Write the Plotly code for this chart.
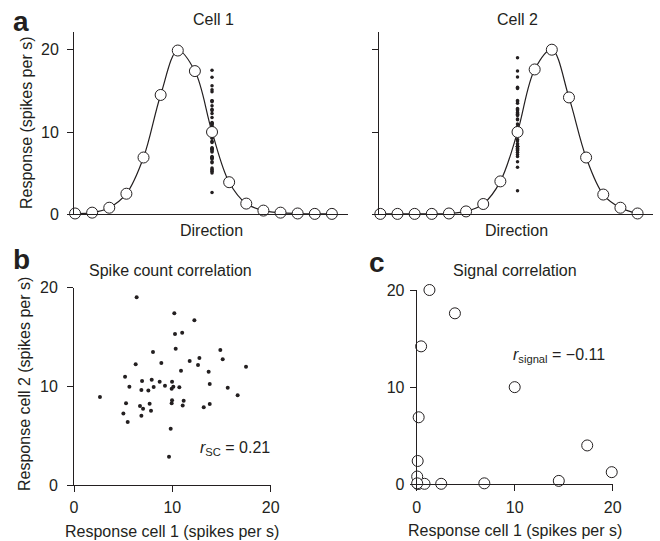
import plotly.graph_objects as go

# ---------------- data ----------------
directions = list(range(1, 17))
cell1_tuning = [0.1, 0.2, 0.8, 2.5, 6.9, 14.5, 19.9, 17.4, 10.0, 3.9, 1.3, 0.45, 0.2, 0.1, 0.05, 0.05]
cell2_tuning = [0.05, 0.05, 0.05, 0.05, 0.1, 0.35, 1.25, 4.0, 10.0, 17.6, 20.0, 14.2, 6.9, 2.4, 0.8, 0.1]

trial_direction = 9
cell1_trials = [2.64, 6.37, 10.2, 12.24, 10.27, 11.0, 10.34, 8.03, 14.88, 15.12,
                12.75, 11.76, 12.61, 6.27, 8.88, 10.88, 17.49, 13.69, 5.19, 6.92,
                7.9, 8.71, 9.97, 13.8, 5.63, 8.1, 9.25, 9.93, 10.1, 10.71,
                15.63, 6.85, 7.56, 16.64, 5.29, 7.69, 9.93, 9.97, 11.15, 11.05,
                13.8, 6.71, 7.02, 13.19, 7.83, 5.02, 6.85, 5.46, 9.83, 9.66]
cell2_trials = [8.92, 19.02, 17.4, 16.69, 15.3, 15.44, 13.82, 13.48, 13.68, 12.74,
                12.87, 12.57, 12.16, 12.23, 12.36, 11.59, 11.99, 11.49, 10.98, 10.54,
                10.68, 10.47, 10.47, 10.24, 9.97, 9.93, 10.07, 9.76, 9.97, 9.9,
                9.86, 9.63, 9.59, 9.09, 8.28, 8.24, 8.28, 8.58, 8.55, 8.07,
                8.21, 8.0, 7.74, 7.87, 7.53, 7.26, 7.03, 6.39, 5.71, 2.87]

scatter_ticks = [0, 10, 20]
tuning_ticks = [0, 10, 20]

# ---------------- style ----------------
W, H = 660, 541
FONT = "Liberation Sans, Arial, sans-serif"
FS = 16
INK = "#231f20"


def px(x):
    return x / W


def py(y):
    return 1 - y / H


fig = go.Figure()

open_marker = dict(symbol="circle", size=11, color="white", line=dict(color=INK, width=1))
dot_marker = dict(symbol="circle", size=3.5, color=INK, line=dict(width=0))

# Panel a, cell 1
fig.add_trace(go.Scatter(x=[trial_direction] * len(cell1_trials), y=cell1_trials, mode="markers",
                         marker=dot_marker, xaxis="x", yaxis="y", cliponaxis=False))
fig.add_trace(go.Scatter(x=directions, y=cell1_tuning, mode="lines",
                         line=dict(color=INK, width=1.2, shape="spline", smoothing=1.0),
                         xaxis="x", yaxis="y", cliponaxis=False))
fig.add_trace(go.Scatter(x=directions, y=cell1_tuning, mode="markers", marker=open_marker,
                         xaxis="x", yaxis="y", cliponaxis=False))

# Panel a, cell 2
fig.add_trace(go.Scatter(x=[trial_direction] * len(cell2_trials), y=cell2_trials, mode="markers",
                         marker=dot_marker, xaxis="x2", yaxis="y2", cliponaxis=False))
fig.add_trace(go.Scatter(x=directions, y=cell2_tuning, mode="lines",
                         line=dict(color=INK, width=1.2, shape="spline", smoothing=1.0),
                         xaxis="x2", yaxis="y2", cliponaxis=False))
fig.add_trace(go.Scatter(x=directions, y=cell2_tuning, mode="markers", marker=open_marker,
                         xaxis="x2", yaxis="y2", cliponaxis=False))

# Panel b
fig.add_trace(go.Scatter(x=cell1_trials, y=cell2_trials, mode="markers",
                         marker=dict(symbol="circle", size=4, color=INK, line=dict(width=0)),
                         xaxis="x3", yaxis="y3", cliponaxis=False))

# Panel c
fig.add_trace(go.Scatter(x=cell1_tuning, y=cell2_tuning, mode="markers", marker=open_marker,
                         xaxis="x4", yaxis="y4", cliponaxis=False))

axis_common = dict(showline=True, linecolor=INK, linewidth=1, showgrid=False, zeroline=False,
                   tickcolor=INK, tickwidth=1, ticklen=6,
                   tickfont=dict(family=FONT, size=FS, color=INK))

fig.update_layout(
    width=W, height=H,
    margin=dict(l=0, r=0, t=0, b=0, autoexpand=False),
    paper_bgcolor="white", plot_bgcolor="white",
    showlegend=False,
    hovermode=False,
    font=dict(family=FONT, size=FS, color=INK),
    xaxis=dict(axis_common, domain=[px(74), px(348)], range=[0.94, 16.94], ticks="",
               showticklabels=False, anchor="y"),
    yaxis=dict(axis_common, domain=[py(214.3), py(32)], range=[0, 22.15], ticks="outside",
               tickvals=tuning_ticks, ticklabelstandoff=5, anchor="x"),
    xaxis2=dict(axis_common, domain=[px(379.3), px(653)], range=[0.94, 16.9], ticks="",
                showticklabels=False, anchor="y2"),
    yaxis2=dict(axis_common, domain=[py(214.3), py(32)], range=[0, 22.15], ticks="outside",
                tickvals=tuning_ticks, showticklabels=False, anchor="x2"),
    xaxis3=dict(axis_common, domain=[px(74), px(270.7)], range=[0, 20], ticks="outside",
                tickvals=scatter_ticks, ticklabelstandoff=2, anchor="y3"),
    yaxis3=dict(axis_common, domain=[py(485), py(287.7)], range=[0, 20], ticks="outside",
                tickvals=scatter_ticks, ticklabelstandoff=6, anchor="x3"),
    xaxis4=dict(axis_common, domain=[px(416.7), px(612.7)], range=[0, 20], ticks="outside",
                tickvals=scatter_ticks, ticklabelstandoff=2, anchor="y4"),
    yaxis4=dict(axis_common, domain=[py(484.3), py(290)], range=[0, 20], ticks="outside",
                tickvals=scatter_ticks, ticklabelstandoff=2, anchor="x4"),
)


def ann(text, x, y, size=FS, xanchor="center", yanchor="middle", angle=0, family=FONT):
    fig.add_annotation(text=text, x=px(x), y=py(y), xref="paper", yref="paper",
                       xanchor=xanchor, yanchor=yanchor, showarrow=False, textangle=angle,
                       font=dict(family=family, size=size, color=INK))


LABEL_FONT = "Liberation Sans Narrow, Liberation Sans, Arial, sans-serif"
ann("<b>a</b>", 11, 21, size=28, xanchor="left", family=LABEL_FONT)
ann("<b>b</b>", 11, 259, size=28, xanchor="left", family=LABEL_FONT)
ann("<b>c</b>", 367, 263, size=28, xanchor="left", family=LABEL_FONT)

ann("Cell 1", 213.7, 19)
ann("Cell 2", 517.5, 19)
ann("Direction", 211, 230)
ann("Direction", 516, 230)
ann("Response (spikes per s)", 26, 123, angle=-90)

ann("Spike count correlation", 170, 270)
ann("Signal correlation", 515, 270)
ann("Response cell 1 (spikes per s)", 171.7, 531)
ann("Response cell 1 (spikes per s)", 515, 530)
ann("Response cell 2 (spikes per s)", 24, 384, angle=-90)

ann("<i>r</i><sub>SC</sub> = 0.21", 272, 448, xanchor="right")
ann("<i>r</i><sub>signal</sub> = \u22120.11", 607, 355, xanchor="right")

fig.write_html("out.html", config=dict(displayModeBar=False, staticPlot=True),
               post_script="document.body.style.margin='0px';document.body.style.overflow='hidden';")
